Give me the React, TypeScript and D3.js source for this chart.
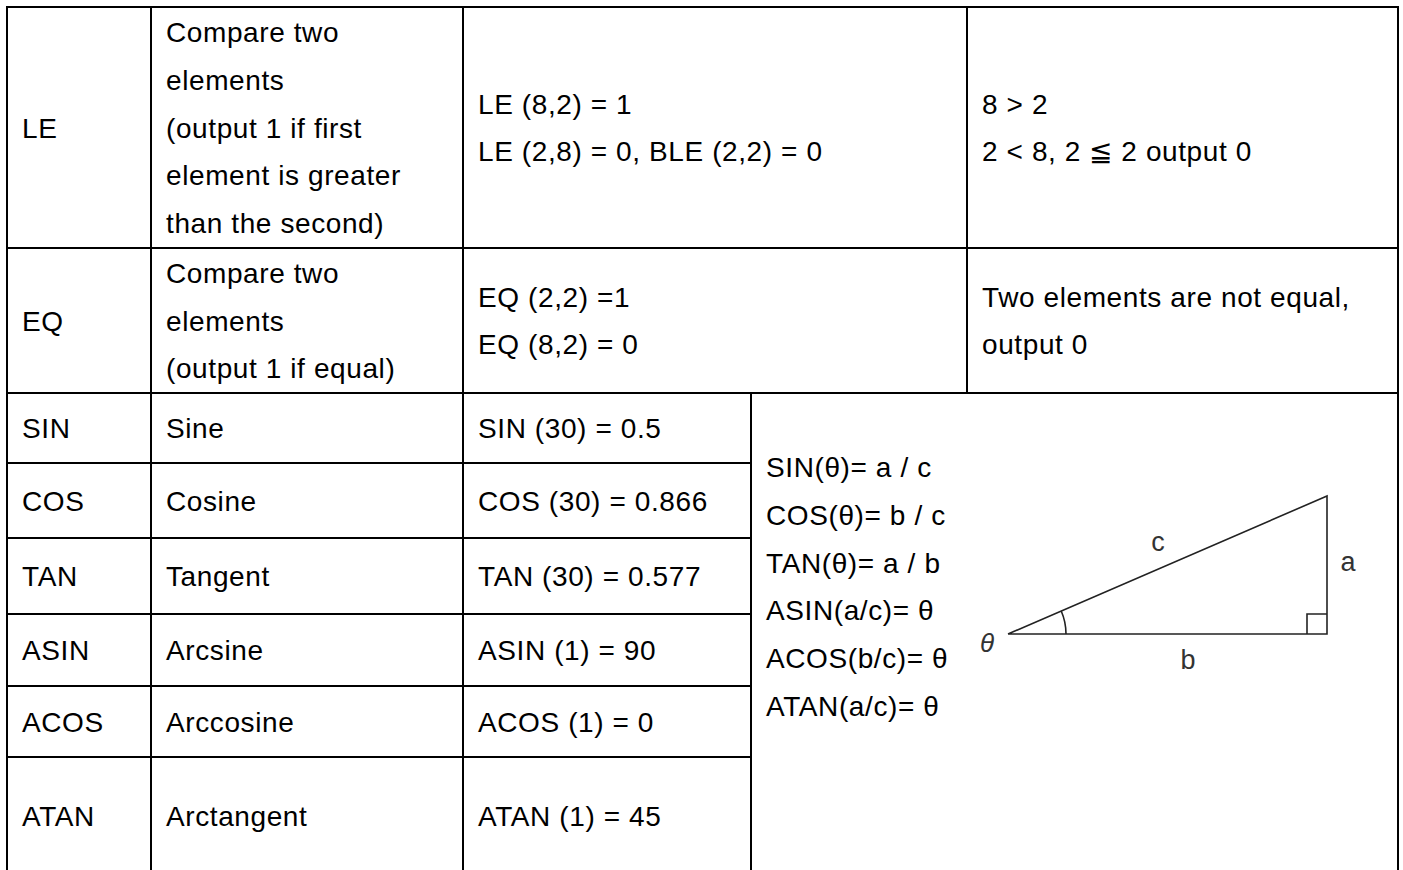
import React from "react";
import * as d3 from "d3";

// Table content
const opCodes = ["LE", "EQ", "SIN", "COS", "TAN", "ASIN", "ACOS", "ATAN"];
const descriptions = [
  ["Compare two", "elements", "(output 1 if first", "element is greater", "than the second)"],
  ["Compare two", "elements", "(output 1 if equal)"],
  ["Sine"],
  ["Cosine"],
  ["Tangent"],
  ["Arcsine"],
  ["Arccosine"],
  ["Arctangent"],
];
const examples = [
  ["LE (8,2) = 1", "LE (2,8) = 0, BLE (2,2) = 0"],
  ["EQ (2,2) =1", "EQ (8,2) = 0"],
  ["SIN (30) = 0.5"],
  ["COS (30) = 0.866"],
  ["TAN (30) = 0.577"],
  ["ASIN (1) = 90"],
  ["ACOS (1) = 0"],
  ["ATAN (1) = 45"],
];
const remarks = [
  ["8 > 2", "2 < 8, 2 \u2266 2 output 0"],
  ["Two elements are not equal,", "output 0"],
];
const formulas = ["SIN(\u03b8)= a / c", "COS(\u03b8)= b / c", "TAN(\u03b8)= a / b", "ASIN(a/c)= \u03b8", "ACOS(b/c)= \u03b8", "ATAN(a/c)= \u03b8"];

// layout
const width = 1403;
const height = 870;
const rowEdges = [7, 248, 393, 463, 538, 614, 686, 757, 876];
const colTop = [7, 151, 463, 967, 1398];
const colBottom = [7, 151, 463, 751, 1398];
const lineStep = 47.8;
const pad = 15;
const font = "'Liberation Sans', Arial, sans-serif";
const fontSize = 28;

const App = () => {
  const rowIdx = d3.range(opCodes.length);
  const rowY = d3.scaleOrdinal<number, number>().domain(rowIdx).range(rowEdges.slice(0, -1));
  const rowH = (i: number) => rowEdges[i + 1] - rowEdges[i];
  const rowMid = (i: number) => (i === opCodes.length - 1 ? 816 : rowY(i) + rowH(i) / 2);

  // baselines for multi-line text centred in a cell
  const baselines = (n: number, mid: number) => d3.range(n).map((k) => mid + (k - (n - 1) / 2) * lineStep + 10);

  // triangle
  const legB = 319;
  const legA = 138;
  const tx = d3.scaleLinear().domain([0, legB]).range([1008, 1008 + legB]);
  const ty = d3.scaleLinear().domain([0, legA]).range([634, 634 - legA]);
  const tri = d3.line<[number, number]>().x((d) => tx(d[0])).y((d) => ty(d[1]));
  const triPath = tri([[0, 0], [legB, 0], [legB, legA], [0, 0]]);
  const sq = 20;
  const squarePath = tri([[legB - sq, 0], [legB - sq, sq], [legB, sq]]);
  const theta = Math.atan2(legA, legB);
  const arcPath = d3.arc()({ innerRadius: 58, outerRadius: 58, startAngle: Math.PI / 2 - theta, endAngle: Math.PI / 2 });

  const hLines: [number, number, number][] = [
    [rowEdges[0], colTop[0], colTop[4]],
    [rowEdges[1], colTop[0], colTop[4]],
    [rowEdges[2], colTop[0], colTop[4]],
    ...rowEdges.slice(3, 8).map((y) => [y, colBottom[0], colBottom[3]] as [number, number, number]),
  ];
  const vLines: [number, number, number][] = [
    [colTop[0], rowEdges[0], height],
    [colTop[1], rowEdges[0], height],
    [colTop[2], rowEdges[0], height],
    [colTop[3], rowEdges[0], rowEdges[2]],
    [colBottom[3], rowEdges[2], height],
    [colTop[4], rowEdges[0], height],
  ];

  return (
    <svg width={width} height={height} style={{ position: "absolute", left: 0, top: 0, background: "#fff" }}>
      <rect width={width} height={height} fill="#fff" />
      <g fontFamily={font} fontSize={fontSize} fill="#000" letterSpacing={0.6}>
        {rowIdx.map((i) => (
          <g key={opCodes[i]}>
            <text x={colTop[0] + pad} y={rowMid(i) + 10}>{opCodes[i]}</text>
            {baselines(descriptions[i].length, rowMid(i)).map((b, k) => (
              <text key={k} x={colTop[1] + pad} y={b}>{descriptions[i][k]}</text>
            ))}
            {baselines(examples[i].length, rowMid(i)).map((b, k) => (
              <text key={k} x={colTop[2] + pad} y={b}>{examples[i][k]}</text>
            ))}
            {i < remarks.length &&
              baselines(remarks[i].length, rowMid(i)).map((b, k) => (
                <text key={k} x={colTop[3] + pad} y={b}>{remarks[i][k]}</text>
              ))}
          </g>
        ))}
        {formulas.map((f, k) => (
          <text key={f} x={colBottom[3] + pad} y={477 + k * lineStep}>{f}</text>
        ))}
      </g>
      <g stroke="#000" strokeWidth={2}>
        {hLines.map(([y, x1, x2], k) => (
          <line key={"h" + k} x1={x1 - 1} x2={x2 + 1} y1={y} y2={y} />
        ))}
        {vLines.map(([x, y1, y2], k) => (
          <line key={"v" + k} x1={x} x2={x} y1={y1 - 1} y2={y2} />
        ))}
      </g>
      <g fill="none" stroke="#222" strokeWidth={1.6}>
        <path d={triPath ?? ""} />
        <path d={squarePath ?? ""} />
        <path d={arcPath ?? ""} transform={`translate(${tx(0)},${ty(0)})`} />
      </g>
      <g fontFamily={font} fontSize={27} fill="#333" textAnchor="middle">
        <text x={1158} y={551}>c</text>
        <text x={1348} y={571}>a</text>
        <text x={1188} y={669}>b</text>
        <text x={987} y={652} fontStyle="italic" fontSize={26}>{"\u03b8"}</text>
      </g>
    </svg>
  );
};

export default App;
